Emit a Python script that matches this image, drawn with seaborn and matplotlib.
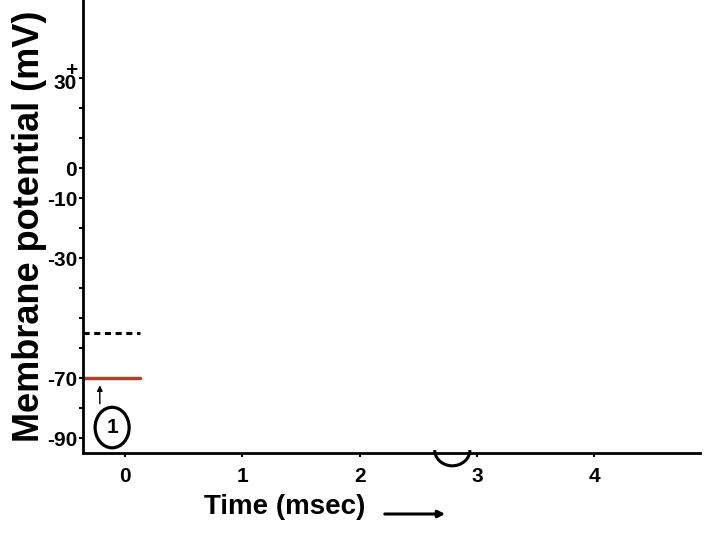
import matplotlib
matplotlib.use("Agg")
import matplotlib.pyplot as plt
import seaborn as sns
import pandas as pd
from matplotlib.patches import Ellipse, Arc

sns.set_style("ticks")
plt.rcParams['font.family'] = ['Liberation Sans', 'DejaVu Sans']
plt.rcParams['text.color'] = 'black'
plt.rcParams['axes.labelcolor'] = 'black'
plt.rcParams['xtick.color'] = 'black'
plt.rcParams['ytick.color'] = 'black'
plt.rcParams['axes.edgecolor'] = 'black'

# data
time_ticks = [0, 1, 2, 3, 4]
mv_ticks = [30, 20, 10, 0, -10, -20, -30, -40, -50, -60, -70, -80, -90]
mv_labels = ["+\n30", "", "", "0", "-10", "", "-30", "", "", "", "-70", "", "-90"]
threshold_mv = -55
resting_mv = -70
segment_time = [-0.36, 0.13]

fig = plt.figure(figsize=(7.2, 5.4), dpi=100)
ax = fig.add_axes([0.115, 0.161, 0.857, 0.839])

thr = pd.DataFrame({"t": segment_time, "v": [threshold_mv] * 2})
rest = pd.DataFrame({"t": segment_time, "v": [resting_mv] * 2})
sns.lineplot(data=thr, x="t", y="v", ax=ax, color="black", lw=2.2,
             linestyle=(0, (2, 1.5)))
sns.lineplot(data=rest, x="t", y="v", ax=ax, color="#c0392b", lw=2.5)

ax.set_xlim(-0.36, 4.9)
ax.set_ylim(-95, 56)
ax.set_xticks(time_ticks)
ax.set_xticklabels([str(t) for t in time_ticks], fontsize=15, fontweight="bold")
ax.set_yticks(mv_ticks)
ax.set_yticklabels(mv_labels, fontsize=15, fontweight="bold", linespacing=0.6)
ax.tick_params(axis="y", length=3, width=1.5, pad=1)
ax.tick_params(axis="x", length=3, width=1.5, pad=7)
for s in ["top", "right"]:
    ax.spines[s].set_visible(False)
for s in ["left", "bottom"]:
    ax.spines[s].set_linewidth(2)

ax.set_ylabel("Membrane potential (mV)", fontsize=26, fontweight="bold",
              labelpad=0)
ax.set_xlabel("")

# circle "1"
ax.add_patch(Ellipse((-0.11, -86.5), 0.29, 13.5, fill=False, lw=2.3,
                     edgecolor="black", clip_on=False))
ax.text(-0.11, -86.5, "1", ha="center", va="center", fontsize=15,
        fontweight="bold")
ax.annotate("", xy=(-0.215, -71.5), xytext=(-0.215, -79.5),
            arrowprops=dict(arrowstyle="-|>", color="black", lw=1,
                            mutation_scale=8))

# half circle below axis near 2.8 ms
ax.add_patch(Arc((2.79, -94), 0.3, 10.5, theta1=180, theta2=360, lw=2.2,
                 color="black", clip_on=False))

# time label with arrow
fig.text(285 / 720, 1 - 507 / 540, "Time (msec)", ha="center", va="center",
         fontsize=20, fontweight="bold")
ax.annotate("", xy=(448 / 720, 1 - 514 / 540), xytext=(382 / 720, 1 - 514 / 540),
            xycoords="figure fraction", textcoords="figure fraction",
            arrowprops=dict(arrowstyle="-|>", color="black", lw=2.2,
                            mutation_scale=10))

fig.savefig("out.png", dpi=100)
